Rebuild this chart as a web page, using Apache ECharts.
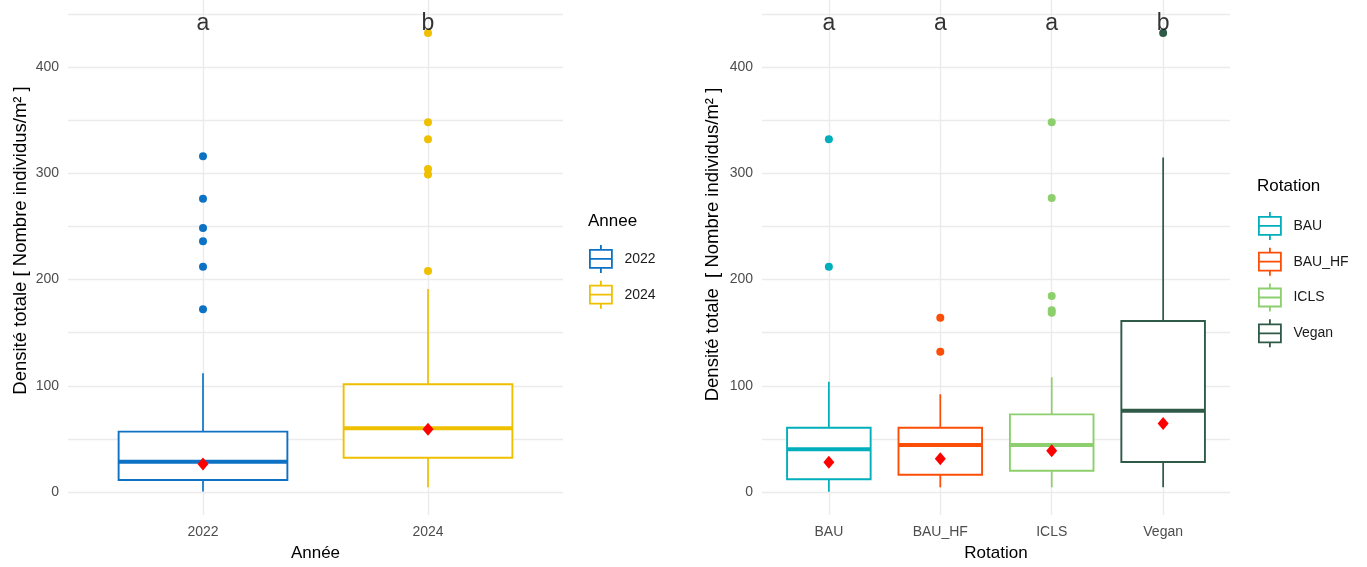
<!DOCTYPE html>
<html>
<head>
<meta charset="utf-8">
<title>Densité totale</title>
<script src="https://cdn.jsdelivr.net/npm/echarts@6/dist/echarts.min.js"></script>
<style>
  html, body { margin: 0; padding: 0; background: #ffffff; }
  #chart { width: 1367px; height: 567px; }
</style>
</head>
<body>
<div id="chart"></div>
<script>
// ---- Année panel ----
const yearCats = ['2022', '2024'];
// [lower whisker, Q1, median, Q3, upper whisker]
const yearStats = [
  [0.5, 11.3, 28.5, 56.8, 111.7],
  [4.4, 32.3, 60.0, 101.4, 191.0]
];
const yearMeans = [26.4, 59.0];
const yearOutliers = [
  [316, 276, 248.5, 236, 212, 172],
  [432, 348, 332, 304, 299, 208]
];
const yearLetters = ['a', 'b'];

// ---- Rotation panel ----
const rotCats = ['BAU', 'BAU_HF', 'ICLS', 'Vegan'];
const rotStats = [
  [0.3, 12.0, 40.2, 60.5, 103.8],
  [4.4, 16.3, 44.2, 60.5, 92.0],
  [4.4, 20.0, 44.2, 73.1, 108.0],
  [4.4, 28.2, 76.5, 161.0, 315.0]
];
const rotMeans = [28.0, 31.4, 38.9, 64.6];
const rotOutliers = [
  [332, 212],
  [164, 132],
  [348, 276.7, 184.5, 171, 168.7],
  [432]
];
const rotLetters = ['a', 'a', 'a', 'b'];

const yTicks = [0, 100, 200, 300, 400];
const LETTER_Y = 441;

// ---- styling ----
const yearColors = ['#0d72c4', '#efc000'];
const rotColors = ['#00afbb', '#fc4e07', '#8ccf6c', '#2e5a47'];
const FONT = 'Liberation Sans';
const GRID_COLOR = '#ebebeb';

// Pixel frame of each panel: value 0 sits at ZERO_Y, value 450 at TOP450.
const ZERO_Y = 492, TOP450 = 14, PLOT_BOTTOM = 515, PLOT_TOP = 0;
const K = (ZERO_Y - TOP450) / 450;
const Y_MIN = -(PLOT_BOTTOM - ZERO_Y) / K;
const Y_MAX = (ZERO_Y - PLOT_TOP) / K;
const W = 1367, H = 567;

const BOX_ICON = 'path://M0,5L22,5L22,23L0,23Z M0,14L22,14 M11,0L11,5 M11,23L11,28';

function boxRenderer(params, api) {
  const x = api.value(0);
  const color = api.visual('color');
  const low = api.coord([x, api.value(1)]);
  const q1 = api.coord([x, api.value(2)]);
  const med = api.coord([x, api.value(3)]);
  const q3 = api.coord([x, api.value(4)]);
  const high = api.coord([x, api.value(5)]);
  const half = api.size([0.75, 0])[0] / 2;
  const cx = q1[0];
  return {
    type: 'group',
    children: [
      { type: 'line', shape: { x1: cx, y1: q3[1], x2: cx, y2: high[1] },
        style: { stroke: color, lineWidth: 1.7 } },
      { type: 'line', shape: { x1: cx, y1: q1[1], x2: cx, y2: low[1] },
        style: { stroke: color, lineWidth: 1.7 } },
      { type: 'rect', shape: { x: cx - half, y: q3[1], width: 2 * half, height: q1[1] - q3[1] },
        style: { fill: '#ffffff', stroke: color, lineWidth: 1.9 } },
      { type: 'line', shape: { x1: cx - half, y1: med[1], x2: cx + half, y2: med[1] },
        style: { stroke: color, lineWidth: 4 } }
    ]
  };
}

// Builds one panel: background grid for the horizontal lines + marks grid.
function buildPanel(p) {
  const bgIdx = p.gridBase, mkIdx = p.gridBase + 1;
  const n = p.cats.length;
  const grids = [
    { left: p.left, right: W - p.right, top: TOP450, bottom: H - ZERO_Y },
    { left: p.left, right: W - p.right, top: PLOT_TOP, bottom: H - PLOT_BOTTOM }
  ];
  const xAxes = [
    { gridIndex: bgIdx, type: 'value', min: 0, max: 1, show: false },
    {
      gridIndex: mkIdx, type: 'value', min: 0.4, max: n + 0.6,
      axisLine: { show: false }, axisTick: { show: false }, splitLine: { show: false },
      axisLabel: {
        customValues: p.cats.map((c, i) => i + 1),
        formatter: v => p.cats[Math.round(v) - 1] || '',
        color: '#4d4d4d', fontSize: 14, fontFamily: FONT, margin: 10
      },
      name: p.xName, nameLocation: 'middle', nameGap: 30,
      nameTextStyle: { color: '#000', fontSize: 17, fontFamily: FONT }
    }
  ];
  const yAxes = [
    {
      gridIndex: bgIdx, type: 'value', min: 0, max: 450, interval: 50,
      axisLine: { show: false }, axisTick: { show: false },
      splitLine: { show: true, lineStyle: { color: GRID_COLOR, width: 1.4 } },
      axisLabel: {
        formatter: v => (yTicks.indexOf(v) >= 0 ? String(v) : ''),
        color: '#4d4d4d', fontSize: 14, fontFamily: FONT, margin: 9
      }
    },
    {
      gridIndex: mkIdx, type: 'value', min: Y_MIN, max: Y_MAX,
      axisLine: { show: false }, axisTick: { show: false },
      axisLabel: { show: false }, splitLine: { show: false },
      name: p.yName, nameLocation: 'middle', nameGap: p.yNameGap, nameRotate: 90,
      nameTextStyle: { color: '#000', fontSize: 18.5, fontFamily: FONT, padding: [0, 0, 0, p.yNameShift] }
    }
  ];

  const series = [];
  // vertical grid lines at each category
  series.push({
    type: 'line', xAxisIndex: mkIdx, yAxisIndex: mkIdx, data: [], z: 1, silent: true,
    markLine: {
      z: 1, silent: true, symbol: ['none', 'none'], animation: false,
      label: { show: false },
      lineStyle: { color: GRID_COLOR, width: 1.4, type: 'solid' },
      emphasis: { disabled: true },
      data: p.cats.map((c, i) => ({ xAxis: i + 1 }))
    }
  });
  p.cats.forEach((c, i) => {
    series.push({
      type: 'custom', name: c, xAxisIndex: mkIdx, yAxisIndex: mkIdx, z: 2,
      itemStyle: { color: p.colors[i] },
      encode: { x: 0, y: [1, 2, 3, 4, 5] },
      data: [[i + 1].concat(p.stats[i])],
      renderItem: boxRenderer
    });
    series.push({
      type: 'scatter', name: c, xAxisIndex: mkIdx, yAxisIndex: mkIdx, z: 3,
      symbol: 'circle', symbolSize: 8,
      itemStyle: { color: p.colors[i], opacity: 1 },
      data: p.outliers[i].map(v => [i + 1, v])
    });
  });
  series.push({
    type: 'scatter', name: 'moyenne', xAxisIndex: mkIdx, yAxisIndex: mkIdx, z: 4,
    symbol: 'diamond', symbolSize: [11, 13],
    itemStyle: { color: '#ff0000', opacity: 1 },
    data: p.means.map((v, i) => [i + 1, v])
  });
  series.push({
    type: 'scatter', name: 'lettres', xAxisIndex: mkIdx, yAxisIndex: mkIdx, z: 5,
    symbolSize: 0, silent: true,
    label: {
      show: true, position: 'inside', color: '#000000', fontSize: 23, fontFamily: FONT,
      formatter: d => p.letters[d.dataIndex]
    },
    data: p.letters.map((l, i) => [i + 1, LETTER_Y])
  });

  const legend = {
    orient: 'vertical', left: p.legendLeft, top: p.legendTop, padding: 0,
    itemWidth: 23, itemHeight: 28, itemGap: 6, selectedMode: false,
    textStyle: { color: '#1a1a1a', fontSize: 14, fontFamily: FONT, padding: [0, 0, 0, 7] },
    data: p.cats.map((c, i) => ({
      name: c, icon: BOX_ICON,
      itemStyle: { color: '#ffffff', borderColor: p.colors[i], borderWidth: 1.8 }
    }))
  };
  const title = {
    text: p.legendTitle, left: p.legendLeft - 1, top: p.legendTitleTop, padding: 0,
    textStyle: { color: '#000', fontSize: 17, fontWeight: 'normal', fontFamily: FONT }
  };
  return { grids, xAxes, yAxes, series, legend, title };
}

const left = buildPanel({
  gridBase: 0, left: 68, right: 563,
  cats: yearCats, stats: yearStats, means: yearMeans, outliers: yearOutliers,
  letters: yearLetters, colors: yearColors,
  xName: 'Année', yName: 'Densité totale [ Nombre individus/m² ]', yNameGap: 38, yNameShift: 34,
  legendTitle: 'Annee', legendLeft: 589, legendTop: 244, legendTitleTop: 213
});
const right = buildPanel({
  gridBase: 2, left: 762, right: 1230,
  cats: rotCats, stats: rotStats, means: rotMeans, outliers: rotOutliers,
  letters: rotLetters, colors: rotColors,
  xName: 'Rotation', yName: 'Densité totale  [ Nombre individus/m² ]', yNameGap: 40, yNameShift: 26,
  legendTitle: 'Rotation', legendLeft: 1258, legendTop: 211, legendTitleTop: 178
});

const chart = echarts.init(document.getElementById('chart'), null, { renderer: 'canvas' });
chart.setOption({
  animation: false,
  backgroundColor: '#ffffff',
  textStyle: { fontFamily: FONT },
  title: [left.title, right.title],
  legend: [left.legend, right.legend],
  grid: left.grids.concat(right.grids),
  xAxis: left.xAxes.concat(right.xAxes),
  yAxis: left.yAxes.concat(right.yAxes),
  series: left.series.concat(right.series)
});
</script>
</body>
</html>
